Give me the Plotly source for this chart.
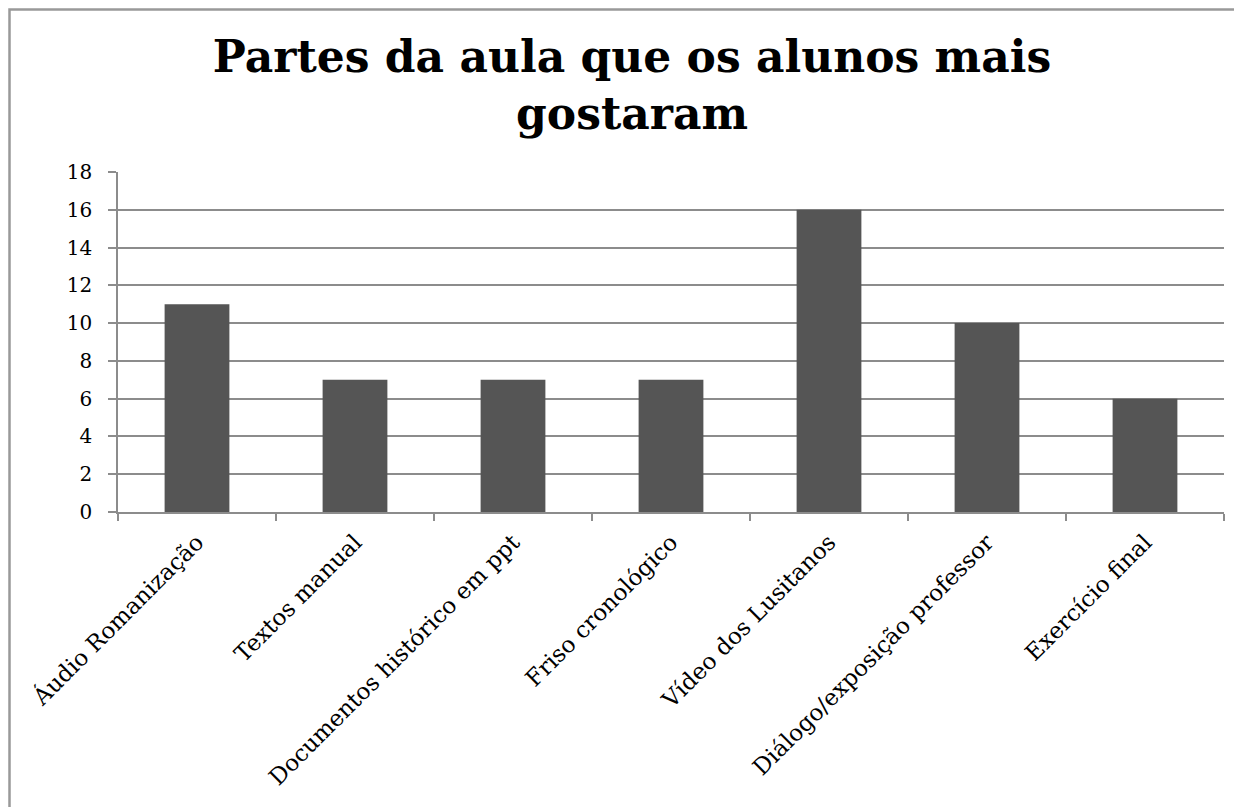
import plotly.graph_objects as go

categories = ["Áudio Romanização", "Textos manual", "Documentos histórico em ppt",
              "Friso cronológico", "Vídeo dos Lusitanos", "Diálogo/exposição professor",
              "Exercício final"]
values = [11, 7, 7, 7, 16, 10, 6]
y_ticks = [0, 2, 4, 6, 8, 10, 12, 14, 16, 18]
title_text = "Partes da aula que os alunos mais<br>gostaram"

W, H = 1242, 807
OFF = 8  # page body offset
L, R = 118 - OFF, 1224 - OFF
T, B = 172 - OFF, 512 - OFF

fig = go.Figure()
fig.add_trace(go.Bar(
    x=categories, y=values,
    marker=dict(color="#555555", line=dict(width=0)),
    width=0.41,
))

grey = "#8c8c8c"
fig.update_layout(
    width=W, height=H,
    margin=dict(l=L, r=W - R, t=T, b=H - B, autoexpand=False),
    paper_bgcolor="white", plot_bgcolor="white",
    font=dict(family="DejaVu Serif", color="black", size=20),
    title=dict(text="<b>" + title_text + "</b>", x=(632 - OFF) / W, xanchor="center",
               y=1 - 64 / H, yanchor="middle",
               font=dict(family="DejaVu Serif", size=44, color="black")),
    showlegend=False,
    bargap=0.59,
    xaxis=dict(showline=True, linecolor=grey, linewidth=1.5,
               ticks="outside", tickson="boundaries", ticklen=7, tickcolor=grey,
               tickwidth=1.5, tickangle=-45, showgrid=False, ticklabelstandoff=6,
               tickfont=dict(family="DejaVu Serif", size=23)),
    yaxis=dict(range=[0, 18], tickvals=y_ticks, showline=True, linecolor=grey,
               linewidth=1.5, ticks="outside", ticklen=8, tickcolor=grey, tickwidth=1.5,
               showgrid=True, gridcolor=grey, gridwidth=1.5, zeroline=False,
               ticklabelstandoff=12,
               tickfont=dict(family="DejaVu Serif", size=20)),
    shapes=[dict(type="rect", xref="paper", yref="paper",
                 x0=(9.5 - 118) / (1224 - 118), x1=(1270 - 118) / (1224 - 118),
                 y0=(512 - 840) / (512 - 172), y1=(512 - 9.5) / (512 - 172),
                 line=dict(color="#999999", width=2.5), fillcolor="rgba(0,0,0,0)",
                 layer="below")],
)
fig.write_html("out.html")
